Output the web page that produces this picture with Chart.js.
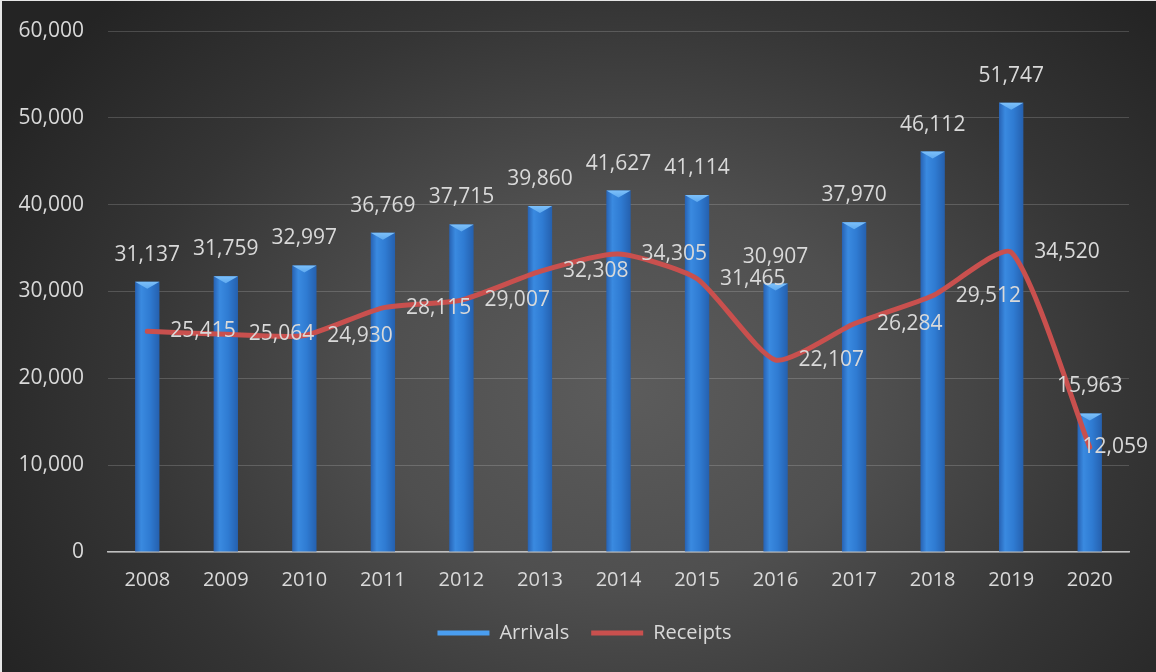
<!DOCTYPE html>
<html>
<head>
<meta charset="utf-8">
<script src="https://cdn.jsdelivr.net/npm/chart.js@4.4.1/dist/chart.umd.min.js"></script>
<style>
  html, body { margin: 0; padding: 0; background: #ffffff; }
  #wrap { position: relative; width: 1156px; height: 672px; box-sizing: border-box; border-top: 1px solid #e6e6e6; border-left: 2px solid #e6e6e6; }
  canvas { display: block; }
</style>
</head>
<body>
<div id="wrap"><canvas id="chart" width="1154" height="671"></canvas></div>
<script>
// Yearly tourist arrivals and receipts
const years = ['2008', '2009', '2010', '2011', '2012', '2013', '2014', '2015', '2016', '2017', '2018', '2019', '2020'];
const arrivals = [31137, 31759, 32997, 36769, 37715, 39860, 41627, 41114, 30907, 37970, 46112, 51747, 15963];
const receipts = [25415, 25064, 24930, 28115, 29007, 32308, 34305, 31465, 22107, 26284, 29512, 34520, 12059];
const yTicks = [0, 10000, 20000, 30000, 40000, 50000, 60000];

const FONT = "'Open Sans', 'Noto Sans', sans-serif";
const FONT_SIZE = 21;
const TEXT = '#d9d9d9';
const BLUE = '#2f7bd3';
const RED = '#c9504e';
const BAR_PCT = 0.31;

const fmt = v => v.toLocaleString('en-US');

// dark radial backdrop behind the whole chart
const backdrop = {
  id: 'backdrop',
  beforeDraw(chart) {
    const { ctx, width, height } = chart;
    ctx.save();
    const cx = width * 0.54, cy = height * 0.58;
    ctx.translate(cx, cy);
    ctx.scale(1, 0.78);
    const r = width * 0.62;
    const g = ctx.createRadialGradient(0, 0, 0, 0, 0, r);
    g.addColorStop(0, '#5c5c5c');
    g.addColorStop(0.35, '#4f4f4f');
    g.addColorStop(0.7, '#353535');
    g.addColorStop(1, '#242424');
    ctx.fillStyle = g;
    ctx.fillRect(-cx, -cy / 0.78, width, height / 0.78);
    ctx.restore();
  }
};

// centre the legend under the plot area rather than the whole canvas
const legendShift = {
  id: 'legendShift',
  afterLayout(chart) {
    const lg = chart.legend;
    if (!lg) return;
    lg.left += 19;
    lg.right += 19;
  }
};

// light bevel cap on top of each column
const barCaps = {
  id: 'barCaps',
  afterDatasetDraw(chart, args) {
    if (chart.data.datasets[args.index].type !== 'bar') return;
    const { ctx } = chart;
    ctx.save();
    args.meta.data.forEach(bar => {
      const w = bar.width;
      const l = bar.x - w / 2, r = bar.x + w / 2;
      const g = ctx.createLinearGradient(0, bar.y, 0, bar.y + 8);
      g.addColorStop(0, '#7cc0fa');
      g.addColorStop(1, '#5aa6ee');
      ctx.fillStyle = g;
      ctx.beginPath();
      ctx.moveTo(l, bar.y);
      ctx.lineTo(r, bar.y);
      ctx.lineTo(bar.x, bar.y + 7);
      ctx.closePath();
      ctx.fill();
    });
    ctx.restore();
  }
};

// value labels: above the columns, to the right of the line points
const valueLabels = {
  id: 'valueLabels',
  afterDatasetsDraw(chart) {
    const { ctx } = chart;
    ctx.save();
    ctx.font = FONT_SIZE + 'px ' + FONT;
    ctx.fillStyle = TEXT;
    chart.data.datasets.forEach((ds, i) => {
      const meta = chart.getDatasetMeta(i);
      meta.data.forEach((el, j) => {
        const txt = fmt(ds.data[j]);
        if (ds.type === 'bar') {
          ctx.textAlign = 'center';
          ctx.textBaseline = 'middle';
          ctx.fillText(txt, el.x, el.y - 27);
        } else {
          ctx.textAlign = 'left';
          ctx.textBaseline = 'middle';
          const w = ctx.measureText(txt).width;
          let x = el.x + 23;
          if (x + w > chart.width - 8) x = chart.width - 8 - w;
          ctx.fillText(txt, x, el.y);
        }
      });
    });
    ctx.restore();
  }
};

function barFill(context) {
  const chart = context.chart;
  const xs = chart.scales.x;
  if (!xs || context.dataIndex === undefined) return BLUE;
  const cx = xs.getPixelForValue(context.dataIndex);
  const w = (xs.width / years.length) * BAR_PCT;
  const g = chart.ctx.createLinearGradient(cx - w / 2, 0, cx + w / 2, 0);
  g.addColorStop(0, '#2762b3');
  g.addColorStop(0.25, '#3a8ae0');
  g.addColorStop(0.6, '#2f7bd2');
  g.addColorStop(1, '#2560ae');
  return g;
}

new Chart(document.getElementById('chart'), {
  data: {
    labels: years,
    datasets: [
      {
        type: 'bar',
        label: 'Arrivals',
        data: arrivals,
        backgroundColor: barFill,
        borderWidth: 0,
        barPercentage: BAR_PCT,
        categoryPercentage: 1,
        order: 2
      },
      {
        type: 'line',
        label: 'Receipts',
        data: receipts,
        borderColor: RED,
        borderWidth: 5,
        tension: 0.2,
        pointRadius: 0,
        fill: false,
        borderCapStyle: 'round',
        borderJoinStyle: 'round',
        order: 1
      }
    ]
  },
  options: {
    responsive: false,
    animation: false,
    layout: { padding: { left: 0, right: 27, top: 30, bottom: 19 } },
    plugins: {
      tooltip: { enabled: false },
      legend: {
        position: 'bottom',
        labels: {
          color: TEXT,
          font: { family: FONT, size: 20 },
          boxWidth: 52,
          boxHeight: 5,
          padding: 22,
          generateLabels: () => [
            { text: 'Arrivals', fillStyle: '#4a9ef0', strokeStyle: '#4a9ef0', lineWidth: 0, datasetIndex: 0, fontColor: TEXT },
            { text: 'Receipts', fillStyle: RED, strokeStyle: RED, lineWidth: 0, datasetIndex: 1, fontColor: TEXT }
          ]
        }
      }
    },
    scales: {
      x: {
        afterFit: s => { s.height = s.height - 7; },
        grid: { display: false, drawTicks: false },
        border: { display: true, color: '#bfbfbf', width: 1.5 },
        ticks: { color: TEXT, font: { family: FONT, size: 20 }, padding: 16, maxRotation: 0 }
      },
      y: {
        min: 0,
        max: 60000,
        afterFit: s => { s.width = 106; s.paddingTop = 0; s.paddingBottom = 0; },
        afterBuildTicks: s => { s.ticks = yTicks.map(v => ({ value: v })); },
        grid: { color: 'rgba(255,255,255,0.17)', lineWidth: 1, drawTicks: false },
        border: { display: false },
        ticks: { color: TEXT, font: { family: FONT, size: FONT_SIZE }, padding: 24, callback: v => fmt(v) }
      }
    }
  },
  plugins: [backdrop, legendShift, barCaps, valueLabels]
});
</script>
</body>
</html>
